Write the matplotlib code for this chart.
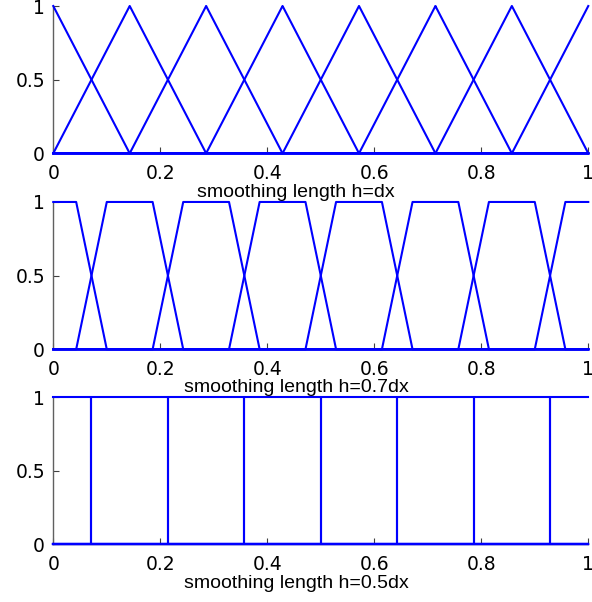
import matplotlib
matplotlib.use('Agg')
import matplotlib.pyplot as plt

# cell midpoints on [0, 1] with 7 cells (dx = 1/7)
midpoints = [0.0714, 0.2143, 0.3571, 0.5, 0.6429, 0.7857, 0.9286]
n_funcs = 8
# half-width of the linear ramp around each midpoint, per panel
ramp_halfwidth = [0.0714, 0.0286, 0.0]
labels = ['smoothing length h=dx', 'smoothing length h=0.7dx', 'smoothing length h=0.5dx']

xticks = [0, 0.2, 0.4, 0.6, 0.8, 1]
xticklabels = ['0', '0.2', '0.4', '0.6', '0.8', '1']
yticks = [0, 0.5, 1]
yticklabels = ['0', '0.5', '1']

plt.rcParams['font.family'] = ['Liberation Sans', 'DejaVu Sans']

fig = plt.figure(figsize=(5.92, 6.02), dpi=100)
bottoms = [0.7453, 0.4198, 0.0958]
left, width, height = 0.090, 0.9037, 0.2447


def shape(i, w):
    """vertices of the i-th piecewise linear basis function"""
    xs, ys = [0.0], []
    if i == 0:
        ys.append(1.0)
    else:
        m = midpoints[i - 1]
        ys.append(0.0)
        xs += [m - w, m + w]
        ys += [0.0, 1.0]
    if i == n_funcs - 1:
        xs.append(1.0)
        ys.append(1.0)
    else:
        m = midpoints[i]
        xs += [m - w, m + w, 1.0]
        ys += [1.0, 0.0, 0.0]
    return xs, ys


for b, w, lab in zip(bottoms, ramp_halfwidth, labels):
    ax = fig.add_axes([left, b, width, height])
    for i in range(n_funcs):
        xs, ys = shape(i, w)
        ax.plot(xs, ys, color='#0000ff', lw=1.5, zorder=3, clip_on=False)
    ax.set_xlim(0, 1)
    ax.set_ylim(0, 1)
    ax.spines['top'].set_visible(False)
    ax.spines['right'].set_visible(False)
    for s in ('left', 'bottom'):
        ax.spines[s].set_color('#606060')
        ax.spines[s].set_linewidth(1.0)
    ax.set_xticks(xticks)
    ax.set_xticklabels(xticklabels)
    ax.set_yticks(yticks)
    ax.set_yticklabels(yticklabels)
    ax.tick_params(direction='in', length=4, width=0.8, color='#404040', pad=6)
    ax.tick_params(axis='x', pad=8)
    for t in ax.get_xticklabels() + ax.get_yticklabels():
        t.set_fontfamily('DejaVu Sans')
        t.set_fontsize(13.5)
    ax.set_xlabel(lab, fontsize=14)
    ax.xaxis.set_label_coords(0.4537, -0.205)

fig.savefig('out.png', dpi=100)
